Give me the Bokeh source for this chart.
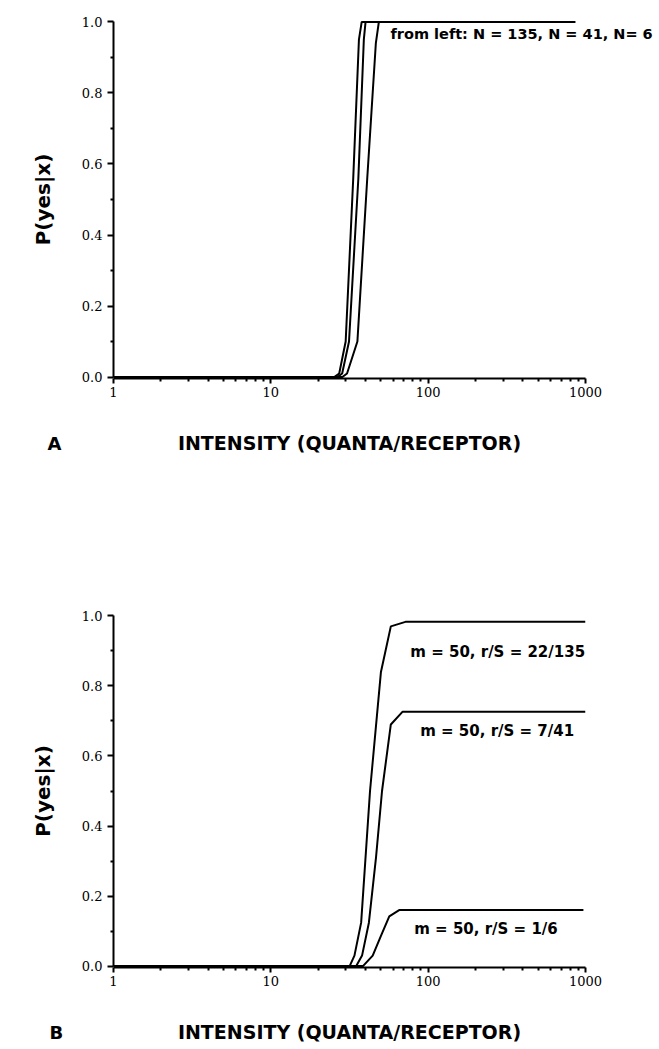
from bokeh.plotting import figure
from bokeh.models import Range1d, FixedTicker, Label, PrintfTickFormatter
from bokeh.layouts import column
from bokeh.embed import file_html
from bokeh.resources import INLINE

# ---- data (panel A) ----
n135_x = [1, 25.3, 27.2, 29.9, 33.4, 36.3, 37.8, 860]
n135_y = [0, 0, 0.01, 0.10, 0.56, 0.95, 1.0, 1.0]
n41_x = [1, 26.5, 28.4, 31.4, 36.0, 39.0, 40.0, 860]
n41_y = [0, 0, 0.01, 0.10, 0.56, 0.95, 1.0, 1.0]
n6_x = [1, 28.5, 30.5, 35.5, 41.0, 46.5, 48.6, 860]
n6_y = [0, 0, 0.01, 0.10, 0.56, 0.94, 1.0, 1.0]

# ---- data (panel B) ----
r22_x = [1, 31.7, 34.0, 37.5, 42.7, 50.1, 57.9, 71.7, 1000]
r22_y = [0, 0, 0.03, 0.124, 0.50, 0.84, 0.97, 0.983, 0.983]
r7_x = [1, 34.9, 38.0, 42.0, 46.6, 50.9, 57.9, 68.6, 1000]
r7_y = [0, 0, 0.03, 0.124, 0.31, 0.50, 0.69, 0.726, 0.726]
r1_x = [1, 38.5, 44.4, 50.1, 56.6, 65.4, 970]
r1_y = [0, 0, 0.03, 0.086, 0.142, 0.16, 0.16]

y_ticks = [0.0, 0.2, 0.4, 0.6, 0.8, 1.0]
y_minor = [0.1, 0.3, 0.5, 0.7, 0.9]
x_ticks = [1, 10, 100, 1000]

x_title = "INTENSITY (QUANTA/RECEPTOR)"
y_title = "P(yes|x)"

TICK_FONT = "DejaVu Serif"
BOLD_FONT = "DejaVu Sans"


def make_fig(width, height, left, right, top, bottom):
    p = figure(width=width, height=height, x_axis_type="log",
               x_range=Range1d(1, 1000), y_range=Range1d(-0.004, 1.004),
               output_backend="svg", toolbar_location=None,
               min_border_left=left, min_border_right=right,
               min_border_top=top, min_border_bottom=bottom)
    p.grid.visible = False
    p.outline_line_color = None
    p.background_fill_color = "white"
    p.border_fill_color = "white"

    ya = p.yaxis[0]
    ya.ticker = FixedTicker(ticks=y_ticks, minor_ticks=y_minor)
    ya.formatter = PrintfTickFormatter(format="%.1f")
    ya.bounds = (0, 1)
    ya.axis_line_width = 2
    ya.major_tick_line_width = 2
    ya.minor_tick_line_width = 2
    ya.major_tick_out = 6
    ya.major_tick_in = 0
    ya.minor_tick_out = 3
    ya.minor_tick_in = 0
    ya.major_label_text_font = TICK_FONT
    ya.major_label_text_font_size = "13px"
    ya.major_label_text_color = "black"
    ya.axis_label = y_title
    ya.axis_label_text_font = BOLD_FONT
    ya.axis_label_text_font_style = "bold"
    ya.axis_label_text_font_size = "20px"
    ya.axis_label_text_color = "black"
    ya.axis_label_standoff = 24

    xa = p.xaxis[0]
    xa.ticker = FixedTicker(ticks=x_ticks,
                            minor_ticks=[m * d for d in (1, 10, 100) for m in range(2, 10)])
    xa.formatter = PrintfTickFormatter(format="%d")
    xa.bounds = (1, 1000)
    xa.axis_line_width = 2
    xa.major_tick_line_width = 2
    xa.minor_tick_line_width = 2
    xa.major_tick_out = 5
    xa.major_tick_in = 0
    xa.minor_tick_out = 3
    xa.minor_tick_in = 0
    xa.major_label_standoff = 3
    xa.major_label_text_font = TICK_FONT
    xa.major_label_text_font_size = "13px"
    xa.major_label_text_color = "black"
    xa.axis_label = x_title
    xa.axis_label_text_font = BOLD_FONT
    xa.axis_label_text_font_style = "bold"
    xa.axis_label_text_font_size = "19px"
    xa.axis_label_text_color = "black"
    xa.axis_label_standoff = 32
    return p


def make_label(x, y, text, size="15px", units="data"):
    return Label(x=x, y=y, x_units=units, y_units=units, text=text,
                 text_font=BOLD_FONT, text_font_style="bold",
                 text_font_size=size, text_color="black",
                 text_baseline="middle")


# Panel A (frame: x 113..588, y 20..378)
pa = make_fig(659, 478, 113, 71, 20, 100)
for xs, ys in ((n135_x, n135_y), (n41_x, n41_y), (n6_x, n6_y)):
    pa.line(xs, ys, line_color="black", line_width=2)
# side-panel labels are not clipped to the frame
pa.add_layout(make_label(277, -13, "from left: N = 135, N = 41, N= 6",
                         size="14.5px", units="screen"), "above")
pa.add_layout(make_label(-66, 34, "A", size="18px", units="screen"), "below")

# Panel B (frame: x 108..585, y 614..967)
pb = make_fig(659, 571, 108, 74, 136, 82)
for xs, ys in ((r22_x, r22_y), (r7_x, r7_y), (r1_x, r1_y)):
    pb.line(xs, ys, line_color="black", line_width=2)
pb.add_layout(make_label(77, 0.898, "m = 50, r/S = 22/135"))
pb.add_layout(make_label(89, 0.671, "m = 50, r/S = 7/41"))
pb.add_layout(make_label(81.6, 0.105, "m = 50, r/S = 1/6"))
pb.add_layout(make_label(-64, -418, "B", size="18px", units="screen"), "above")

layout = column(pa, pb, spacing=0)
open("out.html", "w").write(file_html(layout, INLINE))
